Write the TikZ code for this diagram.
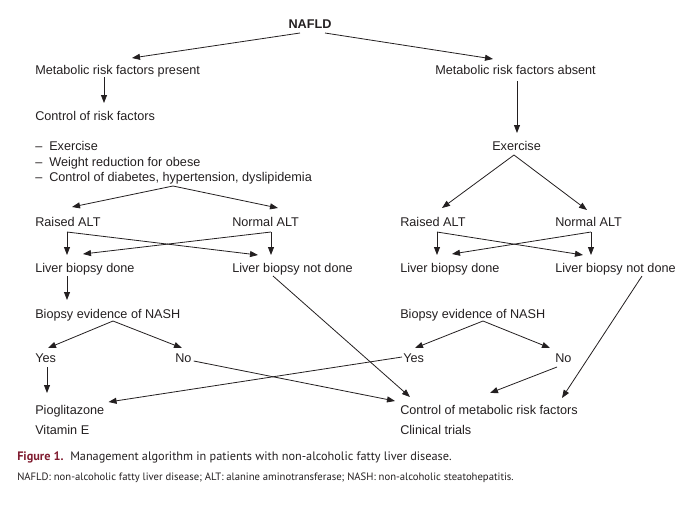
\documentclass[tikz,border=0pt]{standalone}
\usepackage{fontspec}
\setmainfont{Liberation Sans}
\newfontfamily\capfont{PT Sans}
\usetikzlibrary{arrows.meta,calc}
\definecolor{ink}{RGB}{35,31,32}
\definecolor{figred}{RGB}{128,28,48}

\begin{document}
\begin{tikzpicture}[
    x=0.75pt, y=-0.75pt,
    txt/.style={anchor=west, inner sep=0pt, text height=8.5pt, text depth=1.7pt, text=ink,
        font=\fontsize{9.5}{11}\selectfont},
    arr/.style={-{Triangle[length=6pt,width=4.5pt]}, line width=0.6pt, draw=ink},
    captxt/.style={anchor=west, inner sep=0pt, text=ink}
]
    \useasboundingbox (0,0) rectangle (694,508);

    % Top
    \node[txt, anchor=center, font=\fontsize{9.5}{11}\selectfont\bfseries] (nafld) at (310,24) {NAFLD};
    \node[txt] (present) at (35,69.5) {Metabolic risk factors present};
    \node[txt] (absent) at (435,69.5) {Metabolic risk factors absent};

    % Left branch: control of risk factors
    \node[txt] (ctrlrisk) at (35,115.5) {Control of risk factors};
    \node[txt] (m1) at (35,146) {\makebox[10.5pt][l]{--}Exercise};
    \node[txt] (m2) at (35,161.5) {\makebox[10.5pt][l]{--}Weight reduction for obese};
    \node[txt] (m3) at (35,176.5) {\makebox[10.5pt][l]{--}Control of diabetes, hypertension, dyslipidemia};

    % Right branch
    \node[txt] (exR) at (492,146) {Exercise};

    % ALT
    \node[txt] (raisedL) at (35,221.5) {Raised ALT};
    \node[txt] (normalL) at (232,221.5) {Normal ALT};
    \node[txt] (raisedR) at (400,221.5) {Raised ALT};
    \node[txt] (normalR) at (555,221.5) {Normal ALT};

    % Biopsy
    \node[txt] (doneL) at (35,267.5) {Liver biopsy done};
    \node[txt] (notdoneL) at (232,267.5) {Liver biopsy not done};
    \node[txt] (doneR) at (400,267.5) {Liver biopsy done};
    \node[txt] (notdoneR) at (555,267.5) {Liver biopsy not done};

    \node[txt] (nashL) at (35,313.5) {Biopsy evidence of NASH};
    \node[txt] (nashR) at (400,313.5) {Biopsy evidence of NASH};

    \node[txt] (yesL) at (35,358) {Yes};
    \node[txt] (noL) at (175,358) {No};
    \node[txt] (yesR) at (403,358) {Yes};
    \node[txt] (noR) at (555,358) {No};

    % Outcomes
    \node[txt] (pio) at (35,409.5) {Pioglitazone};
    \node[txt] (vite) at (35,429.5) {Vitamin E};
    \node[txt] (ctrlmet) at (400,409.5) {Control of metabolic risk factors};
    \node[txt] (trials) at (400,429.5) {Clinical trials};

    % Caption
    \node[captxt, font=\capfont\fontsize{9.2}{11}\selectfont] (cap1) at (17,457)
        {\textcolor{figred}{\bfseries Figure 1.}\hspace{5pt}Management algorithm in patients with non-alcoholic fatty liver disease.};
    \node[captxt, font=\capfont\fontsize{8}{10}\selectfont] (cap2) at (17,478)
        {NAFLD: non-alcoholic fatty liver disease; ALT: alanine aminotransferase; NASH: non-alcoholic steatohepatitis.};

    % Arrows
    \draw[arr] ($(nafld.center)+(-10,9)$) -- ($(present.west)+(97,-11.5)$);
    \draw[arr] ($(nafld.center)+(15,9)$) -- ($(absent.west)+(58,-10.5)$);
    \draw[arr] ($(present.west)+(69,7.5)$) -- ($(ctrlrisk.west)+(69,-12.5)$);
    \draw[arr] ($(absent.west)+(82,11.5)$) -- ($(exR.west)+(25,-13)$);

    \draw[arr] ($(m3.west)+(138,9.5)$) -- ($(raisedL.west)+(37,-14.5)$);
    \draw[arr] ($(m3.west)+(138,9.5)$) -- ($(normalL.west)+(46,-13.5)$);
    \draw[arr] ($(exR.west)+(22,9)$) -- ($(raisedR.west)+(42,-13.5)$);
    \draw[arr] ($(exR.west)+(22,9)$) -- ($(normalR.west)+(32,-11.5)$);

    \draw[arr] ($(raisedL.west)+(32,10.5)$) -- ($(doneL.west)+(32,-12.5)$);
    \draw[arr] ($(raisedL.west)+(32,10.5)$) -- ($(notdoneL.west)+(26,-12.5)$);
    \draw[arr] ($(normalL.west)+(39,10.5)$) -- ($(notdoneL.west)+(39,-12.5)$);
    \draw[arr] ($(normalL.west)+(39,10.5)$) -- ($(doneL.west)+(48,-13.5)$);

    \draw[arr] ($(raisedR.west)+(37,10.5)$) -- ($(doneR.west)+(37,-12.5)$);
    \draw[arr] ($(raisedR.west)+(37,10.5)$) -- ($(notdoneR.west)+(28,-12.5)$);
    \draw[arr] ($(normalR.west)+(36,10.5)$) -- ($(notdoneR.west)+(36,-12.5)$);
    \draw[arr] ($(normalR.west)+(36,10.5)$) -- ($(doneR.west)+(52,-13.5)$);

    \draw[arr] ($(doneL.west)+(32,8.5)$) -- ($(nashL.west)+(32,-13.5)$);
    \draw[arr] ($(nashL.west)+(78,7.5)$) -- ($(yesL.west)+(13,-10)$);
    \draw[arr] ($(nashL.west)+(78,7.5)$) -- ($(noL.west)+(7,-10)$);
    \draw[arr] ($(nashR.west)+(83,7.5)$) -- ($(yesR.west)+(12,-10)$);
    \draw[arr] ($(nashR.west)+(83,7.5)$) -- ($(noR.west)+(-5,-10)$);

    \draw[arr] ($(yesL.west)+(12,9)$) -- ($(pio.west)+(12,-16.5)$);
    \draw[arr] ($(noL.east)+(2,3)$) -- ($(ctrlmet.west)+(-5,-8.5)$);
    \draw[arr] ($(yesR.west)+(-1,-1)$) -- ($(pio.east)+(4,-7.5)$);
    \draw[arr] ($(notdoneL.west)+(41,8.5)$) -- ($(ctrlmet.west)+(10,-12.5)$);
    \draw[arr] ($(noR.west)+(2,9)$) -- ($(ctrlmet.west)+(90,-16.5)$);
    \draw[arr] ($(notdoneR.west)+(87,8.5)$) -- ($(ctrlmet.west)+(162,-11.5)$);
\end{tikzpicture}
\end{document}
